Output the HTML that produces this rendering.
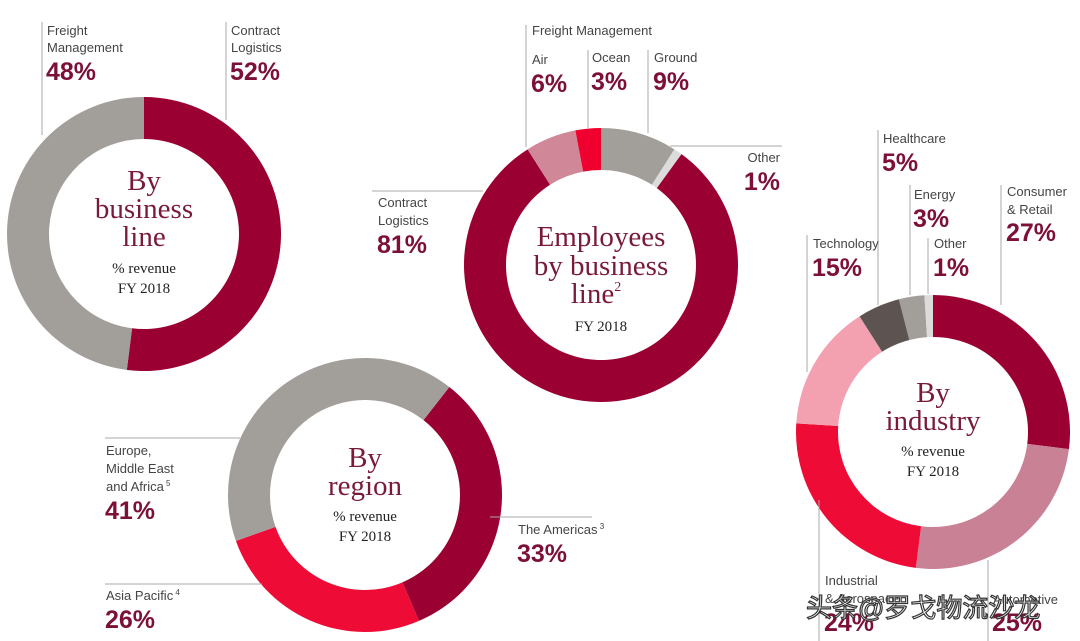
<!DOCTYPE html>
<html><head><meta charset="utf-8">
<style>
html,body{margin:0;padding:0;background:#fff;}
svg{display:block;}
.lbl{font-family:"Liberation Sans",sans-serif;font-size:13px;fill:#444;}
.pct{font-family:"Liberation Sans",sans-serif;font-size:25px;font-weight:bold;fill:#7d1038;}
.ttl{font-family:"Liberation Serif",serif;font-size:29px;fill:#7a1a3a;}
.sub{font-family:"Liberation Serif",serif;font-size:15px;fill:#222;}
.ln{stroke:#aaa;stroke-width:1;}
</style></head>
<body>
<svg id="chart" width="1080" height="641" viewBox="0 0 1080 641">
<g id="rings"></g>
<!-- Chart 1 -->
<g>
<line class="ln" x1="42" y1="22" x2="42" y2="135"/>
<text class="lbl" x="47" y="35">Freight</text><text class="lbl" x="47" y="52">Management</text>
<text class="pct" x="46" y="80">48%</text>
<line class="ln" x1="226" y1="22" x2="226" y2="120"/>
<text class="lbl" x="231" y="35">Contract</text><text class="lbl" x="231" y="52">Logistics</text>
<text class="pct" x="230" y="80">52%</text>
<text class="ttl" x="144" y="190" text-anchor="middle">By</text>
<text class="ttl" x="144" y="218" text-anchor="middle">business</text>
<text class="ttl" x="144" y="246" text-anchor="middle">line</text>
<text class="sub" x="144" y="273" text-anchor="middle">% revenue</text>
<text class="sub" x="144" y="293" text-anchor="middle">FY 2018</text>
</g>
<!-- Chart 2 -->
<g>
<line class="ln" x1="526" y1="25" x2="526" y2="147"/>
<text class="lbl" x="532" y="35">Freight Management</text>
<text class="lbl" x="532" y="64">Air</text><text class="pct" x="531" y="92">6%</text>
<line class="ln" x1="588" y1="50" x2="588" y2="128"/>
<text class="lbl" x="592" y="62">Ocean</text><text class="pct" x="591" y="90">3%</text>
<line class="ln" x1="648" y1="50" x2="648" y2="133"/>
<text class="lbl" x="654" y="62">Ground</text><text class="pct" x="653" y="90">9%</text>
<line class="ln" x1="670" y1="146" x2="782" y2="146"/>
<text class="lbl" x="780" y="162" text-anchor="end">Other</text><text class="pct" x="780" y="190" text-anchor="end">1%</text>
<line class="ln" x1="372" y1="191" x2="483" y2="191"/>
<text class="lbl" x="378" y="207">Contract</text><text class="lbl" x="378" y="225">Logistics</text>
<text class="pct" x="377" y="253">81%</text>
<text class="ttl" x="601" y="246" text-anchor="middle">Employees</text>
<text class="ttl" x="601" y="275" text-anchor="middle">by business</text>
<text class="ttl" x="596" y="303" text-anchor="middle">line<tspan font-size="14" dy="-12">2</tspan></text>
<text class="sub" x="601" y="331" text-anchor="middle">FY 2018</text>
</g>
<!-- Chart 3 -->
<g>
<line class="ln" x1="105" y1="438" x2="240" y2="438"/>
<text class="lbl" x="106" y="455">Europe,</text><text class="lbl" x="106" y="473">Middle East</text>
<text class="lbl" x="106" y="491">and Africa<tspan font-size="8" dy="-5"> 5</tspan></text>
<text class="pct" x="105" y="519">41%</text>
<line class="ln" x1="105" y1="584" x2="262" y2="584"/>
<text class="lbl" x="106" y="600">Asia Pacific<tspan font-size="8" dy="-5"> 4</tspan></text>
<text class="pct" x="105" y="628">26%</text>
<line class="ln" x1="490" y1="517" x2="592" y2="517"/>
<text class="lbl" x="518" y="534">The Americas<tspan font-size="8" dy="-5"> 3</tspan></text>
<text class="pct" x="517" y="562">33%</text>
<text class="ttl" x="365" y="467" text-anchor="middle">By</text>
<text class="ttl" x="365" y="495" text-anchor="middle">region</text>
<text class="sub" x="365" y="521" text-anchor="middle">% revenue</text>
<text class="sub" x="365" y="541" text-anchor="middle">FY 2018</text>
</g>
<!-- Chart 4 -->
<g>
<line class="ln" x1="878" y1="130" x2="878" y2="305"/>
<text class="lbl" x="883" y="143">Healthcare</text><text class="pct" x="882" y="171">5%</text>
<line class="ln" x1="910" y1="185" x2="910" y2="295"/>
<text class="lbl" x="914" y="199">Energy</text><text class="pct" x="913" y="227">3%</text>
<line class="ln" x1="928" y1="238" x2="928" y2="294"/>
<text class="lbl" x="934" y="248">Other</text><text class="pct" x="933" y="276">1%</text>
<line class="ln" x1="807" y1="235" x2="807" y2="372"/>
<text class="lbl" x="813" y="248">Technology</text><text class="pct" x="812" y="276">15%</text>
<line class="ln" x1="1001" y1="185" x2="1001" y2="305"/>
<text class="lbl" x="1007" y="196">Consumer</text><text class="lbl" x="1007" y="214">&amp; Retail</text>
<text class="pct" x="1006" y="241">27%</text>
<line class="ln" x1="819" y1="500" x2="819" y2="641"/>
<text class="lbl" x="825" y="585">Industrial</text><text class="lbl" x="825" y="603">&amp; Aerospace</text>
<text class="pct" x="824" y="631">24%</text>
<line class="ln" x1="988" y1="560" x2="988" y2="641"/>
<text class="lbl" x="993" y="604">Automotive</text><text class="pct" x="992" y="631">25%</text>
<text class="ttl" x="933" y="402" text-anchor="middle">By</text>
<text class="ttl" x="933" y="430" text-anchor="middle">industry</text>
<text class="sub" x="933" y="456" text-anchor="middle">% revenue</text>
<text class="sub" x="933" y="476" text-anchor="middle">FY 2018</text>
</g>
<text x="806" y="617" font-family="'Liberation Sans','Noto Sans CJK SC',sans-serif" font-size="26" fill="#fff" stroke="#333" stroke-width="1.2">头条@罗戈物流沙龙</text>
</svg>
<script>
const ns='http://www.w3.org/2000/svg';
// Chart 1: by business line
const bizCats=['Contract Logistics','Freight Management'];
const bizVals=[52,48];
// Chart 2: employees by business line
const empCats=['Ground','Other','Contract Logistics','Air','Ocean'];
const empVals=[9,1,81,6,3];
// Chart 3: by region
const regCats=['The Americas','Asia Pacific','EMEA'];
const regVals=[33,26,41];
// Chart 4: by industry
const indCats=['Consumer & Retail','Automotive','Industrial & Aerospace','Technology','Healthcare','Energy','Other'];
const indVals=[27,25,24,15,5,3,1];

const charts=[
 {name:'business-line',cx:144,cy:234,start:0,cats:bizCats,vals:bizVals,cols:['#9b0032','#a29e9a']},
 {name:'employees',cx:601,cy:265,start:0,cats:empCats,vals:empVals,cols:['#a29e9a','#dcdcdc','#9b0032','#d08898','#f0002e']},
 {name:'region',cx:365,cy:495,start:38,cats:regCats,vals:regVals,cols:['#9b0032','#ee0b35','#a29e9a']},
 {name:'industry',cx:933,cy:432,start:0,cats:indCats,vals:indVals,cols:['#9b0032','#c98195','#ee0b35','#f3a0b1','#5d5451','#a29e9a','#dcdcdc']}
];
const R=137,r=95;
function pt(cx,cy,rad,deg){const a=(deg-90)*Math.PI/180;return [cx+rad*Math.cos(a),cy+rad*Math.sin(a)];}
const g=document.getElementById('rings');
charts.forEach(c=>{
  const tot=c.vals.reduce((a,b)=>a+b,0);
  let ang=c.start;
  c.vals.forEach((v,i)=>{
    const sweep=v/tot*360, a1=ang+sweep;
    const [x1,y1]=pt(c.cx,c.cy,R,ang),[x2,y2]=pt(c.cx,c.cy,R,a1);
    const [x3,y3]=pt(c.cx,c.cy,r,a1),[x4,y4]=pt(c.cx,c.cy,r,ang);
    const lg=sweep>180?1:0;
    const p=document.createElementNS(ns,'path');
    p.setAttribute('d',`M${x1},${y1}A${R},${R} 0 ${lg} 1 ${x2},${y2}L${x3},${y3}A${r},${r} 0 ${lg} 0 ${x4},${y4}Z`);
    p.setAttribute('fill',c.cols[i]);
    
    
    g.appendChild(p);
    ang=a1;
  });
});
</script>
</body></html>
